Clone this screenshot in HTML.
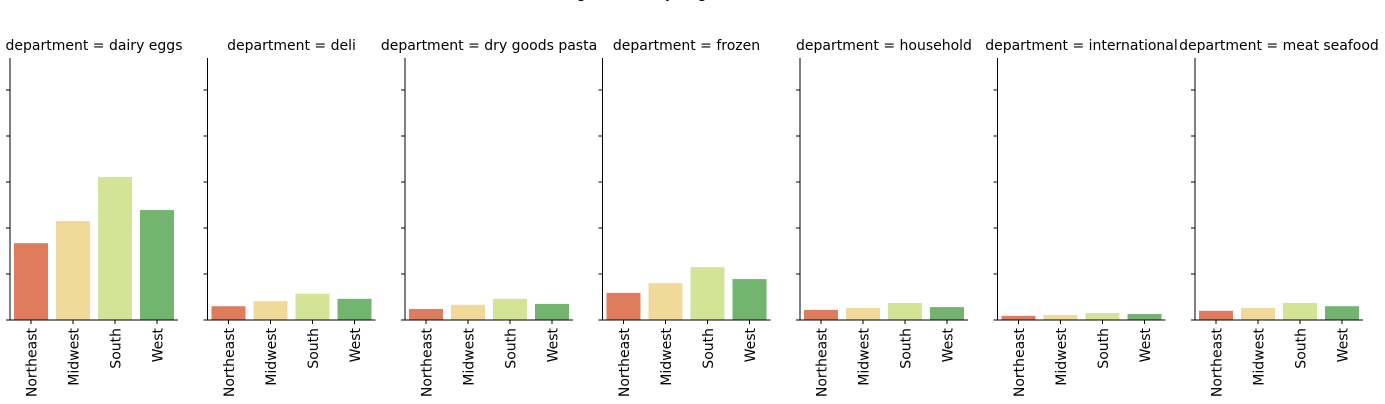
<!DOCTYPE html>
<html><head><meta charset="utf-8"><style>
html,body{margin:0;padding:0;background:#fff;overflow:hidden}
svg{display:block;font-family:"DejaVu Sans","Liberation Sans",sans-serif}
</style></head><body>
<svg id="chart" width="1385" height="404" viewBox="0 0 1385 404" xmlns="http://www.w3.org/2000/svg">
<text x="632" y="-2" text-anchor="middle" font-size="15">Average Orders by Region</text>
</svg>
<script>
const departments = ["dairy eggs","deli","dry goods pasta","frozen","household","international","meat seafood"];
const regions = ["Northeast","Midwest","South","West"];
const colors = ["#df7c5d","#f1d99a","#d4e497","#73b46f"];
const valDairy = [1.67,2.15,3.11,2.39];
const valDeli = [0.30,0.41,0.57,0.46];
const valDry = [0.24,0.33,0.46,0.35];
const valFrozen = [0.59,0.80,1.15,0.89];
const valHousehold = [0.22,0.26,0.37,0.28];
const valIntl = [0.09,0.11,0.15,0.13];
const valMeat = [0.20,0.26,0.37,0.30];
const series = [valDairy,valDeli,valDry,valFrozen,valHousehold,valIntl,valMeat];
const yTicks = [0,1,2,3,4,5];

const NS="http://www.w3.org/2000/svg";
const svgEl=document.getElementById('chart');
function mk(tag,attrs,parent){const e=document.createElementNS(NS,tag);for(const k in attrs)e.setAttribute(k,attrs[k]);(parent||svgEl).appendChild(e);return e;}
const yTop=58,base=320,unit=46,axW=168,step=42,bw=34;
function yScale(v){return base-v*unit;}
departments.forEach((d,i)=>{
  const x0=10+i*197.5;
  const g=mk('g',{});
  
  
  const t=mk('text',{x:x0+axW/2,y:50,'text-anchor':'middle','font-size':14},g);
  
  
  t.textContent='department = '+d;
  series[i].forEach((v,j)=>{
    const b=mk('rect',{x:x0+j*step+4,y:yScale(v),width:bw,height:base-yScale(v),fill:colors[j]},g);
    
    
    mk('line',{x1:x0+j*step+21,x2:x0+j*step+21,y1:base,y2:base+4,stroke:'#000','stroke-width':1},g);
    const l=mk('text',{transform:`translate(${x0+j*step+26.5},${base+8}) rotate(-90)`,'text-anchor':'end','font-size':14},g);
    
    
    l.textContent=regions[j];
  });
  yTicks.forEach(v=>{mk('line',{x1:x0-4,x2:x0,y1:yScale(v),y2:yScale(v),stroke:'#000','stroke-width':1},g);});
  const ya=mk('line',{x1:x0,x2:x0,y1:yTop,y2:base,stroke:'#000','stroke-width':1},g);
  
  
  const xa=mk('line',{x1:x0,x2:x0+axW,y1:base,y2:base,stroke:'#000','stroke-width':1},g);
  
  
});
</script>
</body></html>
